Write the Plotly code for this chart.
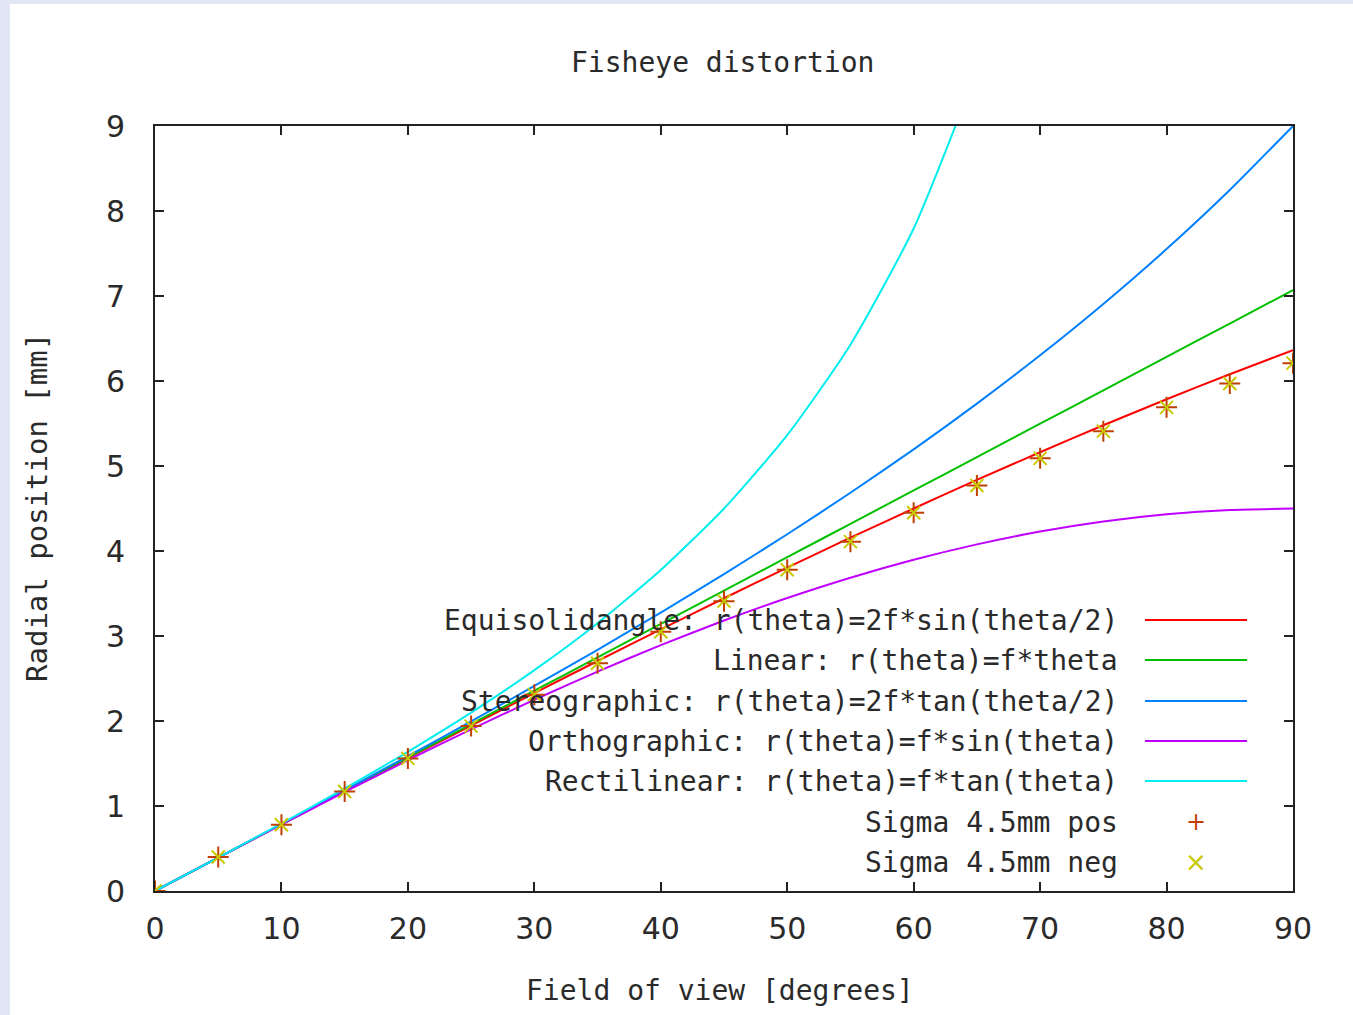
import plotly.graph_objects as go

# ---- data ----
theta = [0, 5, 10, 15, 20, 25, 30, 35, 40, 45, 50, 55, 60, 65, 70, 75, 80, 85, 90]
equisolid = [0, 0.392, 0.784, 1.175, 1.563, 1.947, 2.329, 2.706, 3.078, 3.444,
             3.804, 4.157, 4.50, 4.836, 5.162, 5.479, 5.785, 6.080, 6.364]
linear = [0, 0.393, 0.785, 1.178, 1.571, 1.963, 2.356, 2.749, 3.142, 3.534,
          3.927, 4.320, 4.712, 5.105, 5.498, 5.890, 6.283, 6.676, 7.069]
stereo = [0, 0.393, 0.787, 1.185, 1.587, 1.995, 2.412, 2.838, 3.276, 3.728,
          4.197, 4.685, 5.196, 5.734, 6.302, 6.906, 7.552, 8.247, 9.0]
ortho = [0, 0.392, 0.781, 1.165, 1.539, 1.902, 2.25, 2.581, 2.893, 3.182,
         3.447, 3.686, 3.897, 4.078, 4.229, 4.347, 4.432, 4.483, 4.5]
theta_rect = [0, 5, 10, 15, 20, 25, 30, 35, 40, 45, 50, 55, 60, 65]
rectilinear = [0, 0.394, 0.793, 1.206, 1.638, 2.098, 2.598, 3.151, 3.776, 4.5,
               5.363, 6.427, 7.794, 9.65]
sigma_pos = [0, 0.40, 0.78, 1.17, 1.56, 1.94, 2.31, 2.68, 3.05, 3.41,
             3.78, 4.11, 4.45, 4.77, 5.09, 5.41, 5.69, 5.97, 6.21]
sigma_neg = [0, 0.40, 0.78, 1.17, 1.56, 1.94, 2.31, 2.68, 3.05, 3.41,
             3.78, 4.11, 4.45, 4.77, 5.09, 5.41, 5.69, 5.97, 6.21]

labels = ["Equisolidangle: r(theta)=2f*sin(theta/2)",
          "Linear: r(theta)=f*theta",
          "Stereographic: r(theta)=2f*tan(theta/2)",
          "Orthographic: r(theta)=f*sin(theta)",
          "Rectilinear: r(theta)=f*tan(theta)",
          "Sigma 4.5mm pos",
          "Sigma 4.5mm neg"]
colors = ["#ff0000", "#00c000", "#0080ff", "#c000ff", "#00eeee", "#c04000", "#c8c800"]

# ---- geometry helpers (pixel -> paper) ----
W, H = 1353, 1015
X0, X1, YT, YB = 155, 1293, 126, 891
def px(x):
    return (x - X0) / (X1 - X0)
def py(y):
    return (YB - y) / (YB - YT)

FONT = "DejaVu Sans Mono"
TICKFONT = "DejaVu Sans"
TXT = "#2a2a2a"

fig = go.Figure()
series = [(theta, equisolid), (theta, linear), (theta, stereo), (theta, ortho), (theta_rect, rectilinear)]
for (xs, ys), lab, col in zip(series, labels[:5], colors[:5]):
    fig.add_trace(go.Scatter(x=xs, y=ys, mode="lines", name=lab,
                             line=dict(color=col, width=2, shape="spline", smoothing=0.6),
                             showlegend=False))
fig.add_trace(go.Scatter(x=theta, y=sigma_pos, mode="markers", name=labels[5], showlegend=False,
                         marker=dict(symbol="cross-thin", size=15, line=dict(color=colors[5], width=2))))
fig.add_trace(go.Scatter(x=theta, y=sigma_neg, mode="markers", name=labels[6], showlegend=False,
                         marker=dict(symbol="x-thin", size=13, line=dict(color=colors[6], width=2))))

# ---- manual gnuplot-style legend (text right-aligned, sample on right) ----
row_y = [620, 660, 701, 741, 781, 822, 862]
annotations = []
shapes = []
for i, (lab, col) in enumerate(zip(labels, colors)):
    annotations.append(dict(x=px(1120), y=py(row_y[i]), xref="paper", yref="paper",
                            text=lab, showarrow=False, xanchor="right", yanchor="middle",
                            font=dict(family=FONT, size=28, color=TXT)))
    if i < 5:
        shapes.append(dict(type="line", xref="paper", yref="paper",
                           x0=px(1145), x1=px(1247), y0=py(row_y[i]), y1=py(row_y[i]),
                           line=dict(color=col, width=2)))
annotations.append(dict(x=px(1196), y=py(row_y[5]), xref="paper", yref="paper", text="+",
                        showarrow=False, font=dict(family=TICKFONT, size=24, color=colors[5]),
                        xanchor="center", yanchor="middle"))
annotations.append(dict(x=px(1196), y=py(row_y[6]), xref="paper", yref="paper", text="×",
                        showarrow=False, font=dict(family=TICKFONT, size=26, color=colors[6]),
                        xanchor="center", yanchor="middle"))

# title and axis titles
annotations.append(dict(x=px(722), y=py(62), xref="paper", yref="paper", text="Fisheye distortion",
                        showarrow=False, xanchor="center", yanchor="middle",
                        font=dict(family=FONT, size=28, color=TXT)))
annotations.append(dict(x=px(720), y=py(990), xref="paper", yref="paper", text="Field of view [degrees]",
                        showarrow=False, xanchor="center", yanchor="middle",
                        font=dict(family=FONT, size=28, color=TXT)))
annotations.append(dict(x=px(37), y=py(508), xref="paper", yref="paper", text="Radial position [mm]",
                        showarrow=False, xanchor="center", yanchor="middle", textangle=-90,
                        font=dict(family=FONT, size=29, color=TXT)))

# background: light blue frame with white page
shapes.insert(0, dict(type="rect", xref="paper", yref="paper", layer="below",
                      x0=px(10), x1=px(W + 5), y0=py(4), y1=py(H + 5),
                      fillcolor="white", line=dict(width=0)))

axis_common = dict(showgrid=False, zeroline=False, showline=True, linecolor="#222222", linewidth=2,
                   mirror="ticks", ticks="inside", ticklen=9, tickwidth=2, tickcolor="#222222",
                   tickfont=dict(family=TICKFONT, size=30, color=TXT))
fig.update_layout(
    width=W, height=H,
    margin=dict(l=X0, r=W - X1, t=YT, b=H - YB, pad=0),
    paper_bgcolor="#e2e7f6", plot_bgcolor="rgba(0,0,0,0)",
    xaxis=dict(range=[0, 90], tickvals=[0, 10, 20, 30, 40, 50, 60, 70, 80, 90],
               ticklabelstandoff=10, **axis_common),
    yaxis=dict(range=[0, 9], tickvals=[0, 1, 2, 3, 4, 5, 6, 7, 8, 9],
               ticklabelstandoff=22, **axis_common),
    annotations=annotations, shapes=shapes, showlegend=False,
)

fig.write_html("out.html")
